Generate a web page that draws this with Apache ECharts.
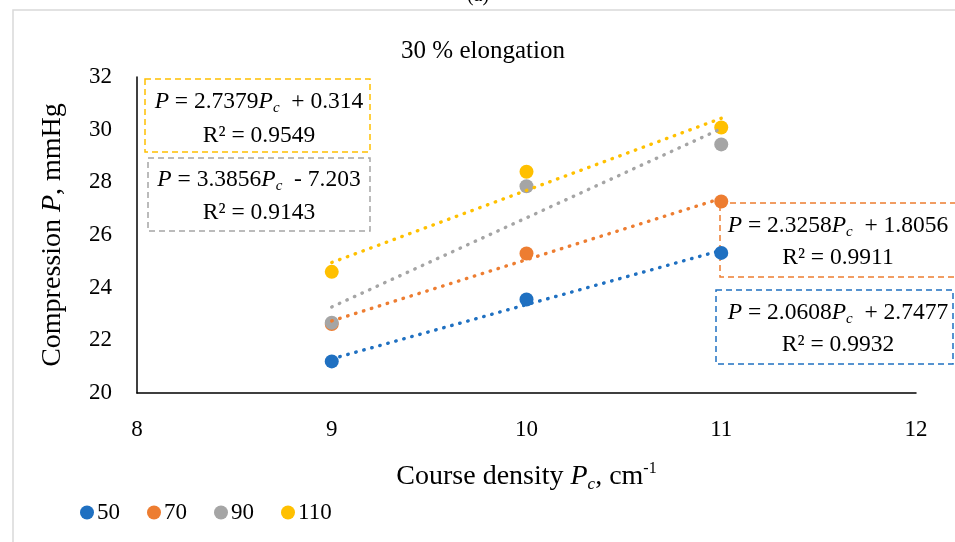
<!DOCTYPE html>
<html>
<head>
<meta charset="utf-8">
<script src="https://cdn.jsdelivr.net/npm/echarts@6/dist/echarts.min.js"></script>
<style>
html,body{margin:0;padding:0;background:#fff;}
#chart{width:955px;height:542px;}
</style>
</head>
<body>
<div id="chart"></div>
<script>
// ---- data ----
const seriesNames = ['50', '70', '90', '110'];
const xValues = [9, 10, 11];
const values50 = [21.2, 23.55, 25.32];
const values70 = [22.62, 25.3, 27.27];
const values90 = [22.67, 27.85, 29.44];
const values110 = [24.6, 28.4, 30.08];
// trendline end points (read at Pc = 9 and Pc = 11)
const trendX = [9, 11];
const trend50 = [21.295, 25.417];
const trend70 = [22.738, 27.389];
const trend90 = [23.267, 30.039];
const trend110 = [24.955, 30.431];
// equation labels
const eqSlope = ['2.0608', '2.3258', '3.3856', '2.7379'];
const eqIntercept = ['+ 2.7477', '+ 1.8056', '- 7.203', '+ 0.314'];
const eqR2 = ['0.9932', '0.9911', '0.9143', '0.9549'];
const xTicks = [8, 9, 10, 11, 12];
const yTicks = [20, 22, 24, 26, 28, 30, 32];

const colors = ['#1f70c1', '#ed7d31', '#a5a5a5', '#ffc000'];
const FONT = 'Liberation Serif';
const allValues = [values50, values70, values90, values110];
const allTrends = [trend50, trend70, trend90, trend110];

const chart = echarts.init(document.getElementById('chart'));

const scatterSeries = seriesNames.map((n, i) => ({
  name: n,
  type: 'scatter',
  symbol: 'circle',
  symbolSize: 14,
  itemStyle: { color: colors[i], opacity: 1 },
  data: xValues.map((x, j) => [x, allValues[i][j]]),
  z: 3
}));
const trendSeries = seriesNames.map((n, i) => ({
  name: 'trend' + n,
  type: 'line',
  symbol: 'none',
  silent: true,
  lineStyle: { color: colors[i], width: 3.4, type: [0.5, 7.8], cap: 'round' },
  data: trendX.map((x, j) => [x, allTrends[i][j]]),
  z: 4
}));

const EQ = 23.5;
const eqRich = {
  n: { fontFamily: FONT, fontSize: EQ, color: '#000', lineHeight: 28 },
  i: { fontFamily: FONT, fontSize: EQ, fontStyle: 'italic', color: '#000', lineHeight: 28 },
  sub: { fontFamily: FONT, fontSize: 15, fontStyle: 'italic', color: '#000', lineHeight: 8, verticalAlign: 'bottom' }
};

// boxes: [rectX, rectY, rectW, rectH, textCenterX, line1Y, line2Y]
const boxLayout = [
  [716, 290, 237, 74, 838, 313, 345],
  [720, 203, 260, 74, 838, 226, 258],
  [148, 158, 222, 73, 259, 180, 213],
  [145, 79, 225, 73, 259, 102, 136]
];
const graphics = [
  { type: 'rect', shape: { x: 13, y: 10, width: 1000, height: 600 }, style: { fill: 'none', stroke: '#d9d9d9', lineWidth: 1.5 }, z: -1 },
  { type: 'text', x: 478, y: -4, style: { text: '(a)', fontFamily: FONT, fontSize: 20, fill: '#000', textAlign: 'center', textVerticalAlign: 'middle' } }
];
boxLayout.forEach((b, i) => {
  graphics.push({
    type: 'rect', shape: { x: b[0], y: b[1], width: b[2], height: b[3] },
    style: { fill: 'none', stroke: colors[i], lineWidth: 1.5, lineDash: [6, 4] }, z: 1
  });
  graphics.push({
    type: 'text', x: b[4], y: b[5], z: 1,
    style: {
      text: '{i|P}{n| = ' + eqSlope[i] + '}{i|P}{sub|c}{n|  ' + eqIntercept[i] + '}',
      rich: eqRich, textAlign: 'center', textVerticalAlign: 'middle'
    }
  });
  graphics.push({
    type: 'text', x: b[4], y: b[6], z: 1,
    style: { text: 'R² = ' + eqR2[i], fontFamily: FONT, fontSize: EQ, fill: '#000', textAlign: 'center', textVerticalAlign: 'middle' }
  });
});

const option = {
  animation: false,
  color: colors,
  title: {
    text: '30 % elongation', left: 478, top: 34, textAlign: 'center',
    textStyle: { fontFamily: FONT, fontSize: 25, fontWeight: 'normal', color: '#000' }
  },
  grid: { left: 137, top: 77, right: 39, bottom: 149 },
  legend: {
    data: seriesNames, left: 75, top: 496, icon: 'circle', itemWidth: 14, itemHeight: 14, itemGap: 27,
    textStyle: { fontFamily: FONT, fontSize: 23, color: '#000', padding: [0, 0, 0, -2] }
  },
  xAxis: {
    type: 'value', min: xTicks[0], max: xTicks[xTicks.length - 1], interval: 1,
    axisLine: { show: true, lineStyle: { color: '#000', width: 1.5 } },
    axisTick: { show: false }, splitLine: { show: false },
    axisLabel: { fontFamily: FONT, fontSize: 23, color: '#000', margin: 25 },
    name: 'Course density {i|P}{sub|c}{n|, cm}{sup|-1}',
    nameLocation: 'middle', nameGap: 68,
    nameTextStyle: {
      fontFamily: FONT, fontSize: 28, color: '#000',
      rich: {
        n: { fontFamily: FONT, fontSize: 28, color: '#000', lineHeight: 32 },
        i: { fontFamily: FONT, fontSize: 28, fontStyle: 'italic', color: '#000', lineHeight: 32 },
        sub: { fontFamily: FONT, fontSize: 17, fontStyle: 'italic', color: '#000', lineHeight: 12, verticalAlign: 'bottom' },
        sup: { fontFamily: FONT, fontSize: 16, color: '#000', lineHeight: 14, verticalAlign: 'top' }
      }
    }
  },
  yAxis: {
    type: 'value', min: yTicks[0], max: yTicks[yTicks.length - 1], interval: 2,
    axisLine: { show: true, lineStyle: { color: '#000', width: 1.5 } },
    axisTick: { show: false }, splitLine: { show: false },
    axisLabel: { fontFamily: FONT, fontSize: 23, color: '#000', margin: 25 },
    name: 'Compression {i|P}{n|, mmHg}',
    nameLocation: 'middle', nameGap: 70,
    nameTextStyle: {
      fontFamily: FONT, fontSize: 28, color: '#000',
      rich: {
        n: { fontFamily: FONT, fontSize: 28, color: '#000' },
        i: { fontFamily: FONT, fontSize: 28, fontStyle: 'italic', color: '#000' }
      }
    }
  },
  graphic: graphics,
  series: scatterSeries.concat(trendSeries)
};
chart.setOption(option);
</script>
</body>
</html>
